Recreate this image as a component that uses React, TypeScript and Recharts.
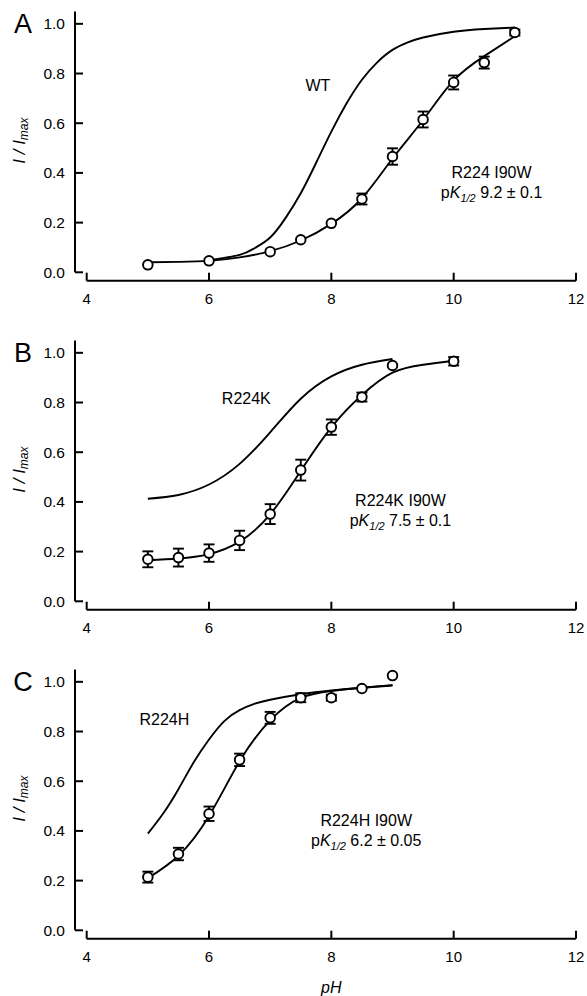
import React from 'react';
import {
  ComposedChart,
  Line,
  Scatter,
  XAxis,
  YAxis,
  ErrorBar,
  ReferenceLine,
  ReferenceDot,
} from 'recharts';

// ---------- axes ----------
const X_TICKS = [4, 6, 8, 10, 12];
const Y_TICKS = [0, 0.2, 0.4, 0.6, 0.8, 1.0];

// ---------- Panel A : R224 I90W vs WT ----------
const A_PH = [5, 6, 7, 7.5, 8, 8.5, 9, 9.5, 10, 10.5, 11];
const A_MUT = [0.03, 0.046, 0.083, 0.131, 0.197, 0.295, 0.466, 0.615, 0.764, 0.844, 0.965];
const A_ERR = [0, 0, 0, 0, 0, 0.022, 0.033, 0.032, 0.028, 0.024, 0.012];
const A_FIT_PH = [5, 5.5, 6, 6.5, 7, 7.5, 8, 8.5, 9, 9.5, 10, 10.5, 11];
const A_FIT = [0.04, 0.042, 0.046, 0.06, 0.085, 0.128, 0.195, 0.298, 0.458, 0.613, 0.772, 0.87, 0.95];
const A_WT_PH = [6, 6.5, 6.75, 7, 7.25, 7.5, 7.75, 8, 8.25, 8.5, 8.75, 9, 9.25, 9.5, 10, 10.5, 11];
const A_WT = [0.048, 0.07, 0.098, 0.14, 0.218, 0.318, 0.44, 0.566, 0.68, 0.775, 0.845, 0.895, 0.925, 0.945, 0.968, 0.979, 0.985];

// ---------- Panel B : R224K I90W vs R224K ----------
const B_PH = [5, 5.5, 6, 6.5, 7, 7.5, 8, 8.5, 9, 10];
const B_MUT = [0.169, 0.176, 0.194, 0.245, 0.351, 0.528, 0.701, 0.822, 0.949, 0.966];
const B_ERR = [0.032, 0.036, 0.035, 0.039, 0.04, 0.042, 0.031, 0.018, 0, 0.017];
const B_FIT_PH = [5, 5.5, 6, 6.5, 7, 7.5, 8, 8.5, 9, 9.5, 10];
const B_FIT = [0.165, 0.172, 0.19, 0.24, 0.35, 0.525, 0.7, 0.83, 0.92, 0.952, 0.968];
const B_REF_PH = [5, 5.5, 6, 6.5, 7, 7.5, 8, 8.5, 9];
const B_REF = [0.413, 0.428, 0.47, 0.553, 0.68, 0.815, 0.905, 0.952, 0.975];

// ---------- Panel C : R224H I90W vs R224H ----------
const C_PH = [5, 5.5, 6, 6.5, 7, 7.5, 8, 8.5, 9];
const C_MUT = [0.214, 0.307, 0.469, 0.686, 0.855, 0.936, 0.936, 0.973, 1.025];
const C_ERR = [0.022, 0.025, 0.029, 0.025, 0.024, 0.018, 0.012, 0, 0];
const C_FIT_PH = [5, 5.5, 6, 6.5, 7, 7.5, 8, 8.5, 9];
const C_FIT = [0.21, 0.3, 0.46, 0.68, 0.845, 0.935, 0.963, 0.976, 0.987];
const C_REF_PH = [5, 5.25, 5.5, 5.75, 6, 6.25, 6.5, 6.75, 7, 7.5, 8, 8.5, 9];
const C_REF = [0.389, 0.47, 0.568, 0.676, 0.768, 0.842, 0.886, 0.912, 0.928, 0.95, 0.965, 0.976, 0.985];

// ---------- layout / style ----------
const FONT = '"Liberation Sans", Arial, Helvetica, sans-serif';
const X_MIN = 3.809;
const X_MAX = 12;
const Y_MIN = -0.0338;
const Y_MAX = 1.05;
const INK = '#000';

const toPts = (xs: number[], ys: number[], errs?: number[]) =>
  xs.map((x, i) => ({ x, y: ys[i], err: errs ? errs[i] : 0 }));

const renderXTick = (p: any) => (
  <g>
    <line x1={p.x} y1={p.y} x2={p.x} y2={p.y - 8} stroke={INK} strokeWidth={2} />
    <text
      x={p.x}
      y={p.y + 17.5}
      textAnchor="middle"
      dominantBaseline="central"
      fontSize={15}
      fontFamily={FONT}
      fill={INK}
    >
      {p.payload.value}
    </text>
  </g>
);

const renderYTick = (p: any) => (
  <g>
    <line x1={p.x} y1={p.y} x2={p.x + 8} y2={p.y} stroke={INK} strokeWidth={2} />
    <text
      x={p.x - 10}
      y={p.y}
      textAnchor="end"
      dominantBaseline="central"
      fontSize={15.5}
      fontFamily={FONT}
      fill={INK}
    >
      {Number(p.payload.value).toFixed(1)}
    </text>
  </g>
);

const circleShape = (p: any) => (
  <circle cx={p.cx} cy={p.cy} r={4.8} fill="#fff" stroke={INK} strokeWidth={1.9} />
);

const textAt = (key: string, x: number, y: number, render: (cx: number, cy: number) => React.ReactElement) => (
  <ReferenceDot
    key={key}
    x={x}
    y={y}
    r={0}
    ifOverflow="visible"
    shape={(p: any) => render(p.cx, p.cy)}
  />
);

type Pt = { x: number; y: number; err: number };
type PanelProps = {
  height: number;
  bottom: number;
  letter: string;
  mut: Pt[];
  fit: Pt[];
  refCurve: Pt[];
  refName: string;
  refPos: [number, number];
  mutName: string;
  pk: string;
  mutPos: [number, number];
  showPH?: boolean;
};

const Panel = (props: PanelProps) => {
  const { height, bottom, letter, mut, fit, refCurve, refName, refPos, mutName, pk, mutPos, showPH } = props;
  return (
    <ComposedChart
      width={587}
      height={height}
      margin={{ top: 11.4, right: 11, bottom, left: 15 }}
    >
      <XAxis
        type="number"
        dataKey="x"
        domain={[X_MIN, X_MAX]}
        ticks={X_TICKS}
        allowDataOverflow
        axisLine={false}
        tickLine={false}
        tickSize={0}
        tickMargin={0}
        interval={0}
        height={30}
        tick={renderXTick}
      />
      <YAxis
        type="number"
        dataKey="y"
        domain={[Y_MIN, Y_MAX]}
        ticks={Y_TICKS}
        allowDataOverflow
        axisLine={false}
        tickLine={false}
        tickSize={0}
        tickMargin={0}
        interval={0}
        width={60}
        tick={renderYTick}
      />
      <ReferenceLine
        segment={[{ x: X_MIN, y: 0 }, { x: X_MIN, y: Y_MAX }]}
        stroke={INK}
        strokeWidth={2}
        ifOverflow="visible"
      />
      <ReferenceLine
        segment={[{ x: 4, y: Y_MIN }, { x: 12, y: Y_MIN }]}
        stroke={INK}
        strokeWidth={2}
        ifOverflow="visible"
      />
      <Line
        data={refCurve}
        dataKey="y"
        type="natural"
        stroke={INK}
        strokeWidth={1.9}
        dot={false}
        activeDot={false}
        isAnimationActive={false}
      />
      <Line
        data={fit}
        dataKey="y"
        type="natural"
        stroke={INK}
        strokeWidth={1.9}
        dot={false}
        activeDot={false}
        isAnimationActive={false}
      />
      <Scatter data={mut} dataKey="y" shape={circleShape} isAnimationActive={false}>
        <ErrorBar dataKey="err" direction="y" width={5.5} stroke={INK} strokeWidth={1.9} isAnimationActive={false} />
      </Scatter>

      {textAt('letter', 2.96, 1.0, (cx, cy) => (
        <text x={cx} y={cy} textAnchor="middle" dominantBaseline="central" fontSize={27} fontFamily={FONT} fill={INK}>
          {letter}
        </text>
      ))}
      {textAt('ylabel', 2.91, 0.53, (cx, cy) => (
        <text
          x={cx}
          y={cy}
          transform={`rotate(-90, ${cx}, ${cy})`}
          textAnchor="middle"
          dominantBaseline="central"
          fontSize={17}
          fontFamily={FONT}
          fontStyle="italic"
          fill={INK}
        >
          I / I<tspan fontSize={12} dy={4}>max</tspan>
        </text>
      ))}
      {textAt('refname', refPos[0], refPos[1], (cx, cy) => (
        <text x={cx} y={cy} textAnchor="middle" dominantBaseline="central" fontSize={16} fontFamily={FONT} fill={INK}>
          {refName}
        </text>
      ))}
      {textAt('mutname', mutPos[0], mutPos[1], (cx, cy) => (
        <text x={cx} y={cy} textAnchor="middle" dominantBaseline="central" fontSize={16} fontFamily={FONT} fill={INK}>
          {mutName}
        </text>
      ))}
      {textAt('pk', mutPos[0], mutPos[1] - 0.078, (cx, cy) => (
        <text x={cx} y={cy + 6} textAnchor="middle" fontSize={16} fontFamily={FONT} fill={INK}>
          p<tspan fontStyle="italic">K</tspan>
          <tspan fontStyle="italic" fontSize={11} dy={4}>1/2</tspan>
          <tspan dy={-4}>{' ' + pk}</tspan>
        </text>
      ))}
      {showPH
        ? textAt('ph', 8, -0.229, (cx, cy) => (
            <text x={cx} y={cy} textAnchor="middle" dominantBaseline="central" fontSize={16} fontFamily={FONT} fontStyle="italic" fill={INK}>
              pH
            </text>
          ))
        : null}
    </ComposedChart>
  );
};

export default function App() {
  return (
    <div style={{ position: 'absolute', left: 0, top: 0, width: 587, height: 996, background: '#fff' }}>
      <Panel
        height={329}
        bottom={18.3}
        letter="A"
        mut={toPts(A_PH, A_MUT, A_ERR)}
        fit={toPts(A_FIT_PH, A_FIT)}
        refCurve={toPts(A_WT_PH, A_WT)}
        refName="WT"
        refPos={[7.78, 0.75]}
        mutName="R224 I90W"
        pk="9.2 ± 0.1"
        mutPos={[10.62, 0.4]}
      />
      <Panel
        height={329}
        bottom={18.3}
        letter="B"
        mut={toPts(B_PH, B_MUT, B_ERR)}
        fit={toPts(B_FIT_PH, B_FIT)}
        refCurve={toPts(B_REF_PH, B_REF)}
        refName="R224K"
        refPos={[6.61, 0.818]}
        mutName="R224K I90W"
        pk="7.5 ± 0.1"
        mutPos={[9.13, 0.406]}
      />
      <Panel
        height={338}
        bottom={27.3}
        letter="C"
        mut={toPts(C_PH, C_MUT, C_ERR)}
        fit={toPts(C_FIT_PH, C_FIT)}
        refCurve={toPts(C_REF_PH, C_REF)}
        refName="R224H"
        refPos={[5.27, 0.847]}
        mutName="R224H I90W"
        pk="6.2 ± 0.05"
        mutPos={[8.57, 0.442]}
        showPH
      />
    </div>
  );
}
